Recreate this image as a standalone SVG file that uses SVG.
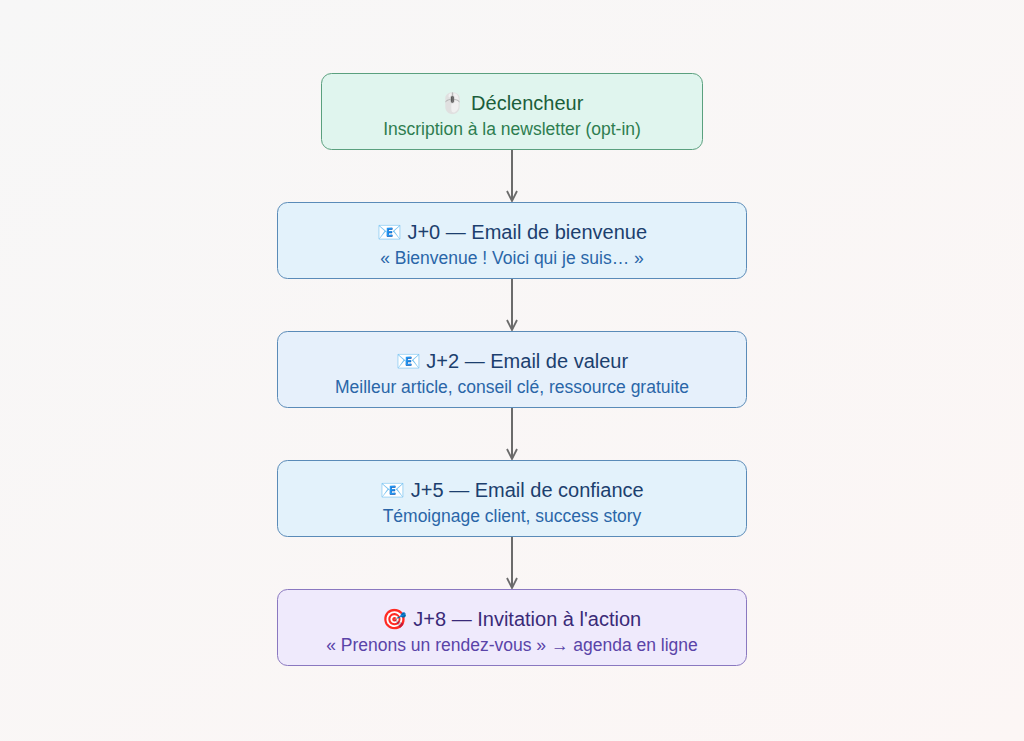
<svg xmlns="http://www.w3.org/2000/svg" width="1024" height="741" viewBox="0 0 1024 741">
<defs>
<linearGradient id="bg" x1="0" y1="0" x2="1" y2="1"><stop offset="0" stop-color="#f7f7f7"/><stop offset="1" stop-color="#fcf6f5"/></linearGradient>
<marker id="ah" viewBox="0 0 12 12" refX="11" refY="6" markerWidth="12" markerHeight="12" markerUnits="userSpaceOnUse" orient="auto"><path d="M1,1 L11,6 L1,11" fill="none" stroke="#6b6b6b" stroke-width="1.8"/></marker>
</defs>
<style>
.t{font-family:"Liberation Sans",Arial,"Noto Color Emoji",sans-serif;font-size:20px;text-anchor:middle}
.s{font-family:"Liberation Sans",Arial,sans-serif;font-size:17.5px;text-anchor:middle}
.c line{stroke:#6b6b6b;stroke-width:2;marker-end:url(#ah)}
</style>
<rect width="1024" height="741" fill="url(#bg)"/>
<g class="c" id="connectors">
<line x1="512" y1="150" x2="512" y2="201"/>
<line x1="512" y1="279" x2="512" y2="330"/>
<line x1="512" y1="408" x2="512" y2="459"/>
<line x1="512" y1="537" x2="512" y2="588"/>
</g>
<g id="n1"><rect x="321.5" y="73.5" width="381" height="76" rx="10" fill="#e0f5ee" stroke="#5aa07e"/>
<text class="t" x="512" y="110" fill="#1b5e3b">🖱️ Déclencheur</text>
<text class="s" x="512" y="135" fill="#2e7d50">Inscription à la newsletter (opt-in)</text></g>
<g id="n2"><rect x="277.5" y="202.5" width="469" height="76" rx="10" fill="#e3f2fb" stroke="#5a8bb8"/>
<text class="t" x="512" y="239" fill="#1c3f6e">📧 J+0 — Email de bienvenue</text>
<text class="s" x="512" y="264" fill="#2a66a8">« Bienvenue ! Voici qui je suis… »</text></g>
<g id="n3"><rect x="277.5" y="331.5" width="469" height="76" rx="10" fill="#e6f0fb" stroke="#5a8bb8"/>
<text class="t" x="512" y="368" fill="#1c3f6e">📧 J+2 — Email de valeur</text>
<text class="s" x="512" y="393" fill="#2a66a8">Meilleur article, conseil clé, ressource gratuite</text></g>
<g id="n4"><rect x="277.5" y="460.5" width="469" height="76" rx="10" fill="#e3f2fb" stroke="#5a8bb8"/>
<text class="t" x="512" y="497" fill="#1c3f6e">📧 J+5 — Email de confiance</text>
<text class="s" x="512" y="522" fill="#2a66a8">Témoignage client, success story</text></g>
<g id="n5"><rect x="277.5" y="589.5" width="469" height="76" rx="10" fill="#efeafc" stroke="#8a78c0"/>
<text class="t" x="512" y="626" fill="#3a2a78">🎯 J+8 — Invitation à l'action</text>
<text class="s" x="512" y="651" fill="#5a44a8">« Prenons un rendez-vous » → agenda en ligne</text></g>
</svg>
